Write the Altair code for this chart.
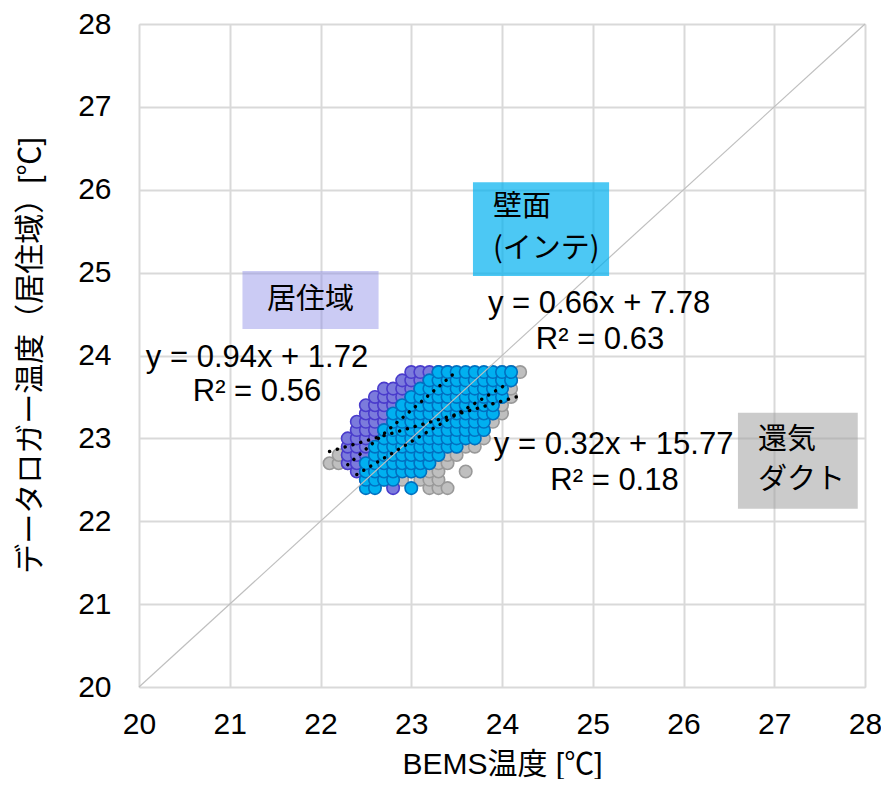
import altair as alt
import pandas as pd

# ---------------- data ----------------
# 還気ダクト (gray): x column -> y values
gray_x = [22.1, 22.2, 22.3, 22.4, 22.5, 22.6, 22.7, 22.8, 22.9, 23.0, 23.1,
          23.2, 23.3, 23.4, 23.5, 23.6, 23.7, 23.8, 23.9, 24.0, 24.1, 24.2]
gray_y = [[22.7], [22.7, 22.8], [22.7, 22.8], [22.7, 22.8, 23.1],
          [22.6, 22.7, 22.9, 23.1], [22.7, 22.8, 23.0], [22.5, 22.7, 22.9, 23.2],
          [22.6, 22.8, 23.0, 23.2], [22.5, 22.7, 22.9, 23.1], [22.6, 22.8, 23.0, 23.2],
          [22.5, 22.6, 22.7, 22.9], [22.4, 22.5, 22.6, 22.7, 22.8],
          [22.4, 22.5, 22.6, 22.7, 22.8, 23.0], [22.4, 22.7, 22.8, 22.9, 23.0],
          [22.8, 22.9, 23.0], [22.6, 22.9, 23.0, 23.1], [22.9, 23.0, 23.1, 23.2],
          [23.0, 23.1, 23.2, 23.3], [23.2, 23.3, 23.4, 23.5, 23.6],
          [23.3, 23.4, 23.5, 23.6, 23.7, 23.8], [23.5, 23.6, 23.7, 23.8], [23.8]]

# 居住域 (purple)
purple_x = [22.3, 22.4, 22.5, 22.6, 22.7, 22.8, 22.9, 23.0, 23.1, 23.2, 23.3, 23.4, 23.5]
purple_y = [[22.7, 22.8, 22.9, 23.0],
            [22.6, 22.7, 22.8, 22.9, 23.0, 23.1, 23.2],
            [22.5, 22.6, 22.7, 22.8, 22.9, 23.0, 23.1, 23.2, 23.3, 23.4],
            [22.5, 22.6, 22.7, 22.8, 22.9, 23.0, 23.1, 23.2, 23.3, 23.4, 23.5],
            [22.6, 22.7, 22.8, 22.9, 23.0, 23.1, 23.2, 23.3, 23.4, 23.5, 23.6],
            [22.4, 22.7, 22.8, 22.9, 23.0, 23.1, 23.2, 23.3, 23.4, 23.5, 23.6],
            [22.7, 22.8, 22.9, 23.0, 23.1, 23.2, 23.3, 23.4, 23.5, 23.6, 23.7],
            [22.8, 23.0, 23.1, 23.2, 23.3, 23.4, 23.5, 23.6, 23.7, 23.8],
            [23.0, 23.2, 23.3, 23.4, 23.5, 23.6, 23.7, 23.8],
            [23.2, 23.3, 23.4, 23.5, 23.6, 23.7, 23.8],
            [23.4, 23.5, 23.6, 23.7, 23.8], [23.5, 23.6, 23.7, 23.8], [23.7]]

# 壁面(インテ) (cyan)
cyan_x = [22.5, 22.6, 22.7, 22.8, 22.9, 23.0, 23.1, 23.2, 23.3, 23.4, 23.5,
          23.6, 23.7, 23.8, 23.9, 24.0, 24.1]
cyan_y = [[22.4, 22.5, 22.6, 22.7], [22.4, 22.5, 22.6, 22.7, 22.8, 22.9],
          [22.5, 22.6, 22.7, 22.8, 22.9, 23.0, 23.1],
          [22.5, 22.6, 22.7, 22.8, 22.9, 23.0, 23.1, 23.2, 23.3],
          [22.6, 22.7, 22.8, 22.9, 23.0, 23.1, 23.2, 23.3, 23.4],
          [22.4, 22.6, 22.7, 22.8, 22.9, 23.0, 23.1, 23.2, 23.3, 23.4, 23.5],
          [22.6, 22.7, 22.8, 22.9, 23.0, 23.1, 23.2, 23.3, 23.4, 23.5, 23.6],
          [22.7, 22.8, 22.9, 23.0, 23.1, 23.2, 23.3, 23.4, 23.5, 23.6, 23.7],
          [22.8, 22.9, 23.0, 23.1, 23.2, 23.3, 23.4, 23.5, 23.6, 23.7, 23.8],
          [22.9, 23.0, 23.1, 23.2, 23.3, 23.4, 23.5, 23.6, 23.7, 23.8],
          [22.9, 23.0, 23.1, 23.2, 23.3, 23.4, 23.5, 23.6, 23.7, 23.8],
          [23.0, 23.1, 23.2, 23.3, 23.4, 23.5, 23.6, 23.7, 23.8],
          [23.0, 23.1, 23.2, 23.3, 23.4, 23.5, 23.6, 23.7, 23.8],
          [23.1, 23.2, 23.3, 23.4, 23.5, 23.6, 23.7, 23.8],
          [23.3, 23.4, 23.5, 23.6, 23.7, 23.8],
          [23.5, 23.6, 23.7, 23.8], [23.7, 23.8]]

# trend lines (from the displayed equations)
trend_names = ["gray", "purple", "cyan"]
trend_slope = [0.32, 0.94, 0.66]
trend_icept = [15.77, 1.72, 7.78]
trend_x0 = [22.1, 22.3, 22.4]
trend_x1 = [24.2, 23.5, 24.05]

axis_ticks = [20, 21, 22, 23, 24, 25, 26, 27, 28]

# equation labels
eq_text = ["y = 0.94x + 1.72", "R² = 0.56", "y = 0.66x + 7.78", "R² = 0.63",
           "y = 0.32x + 15.77", "R² = 0.18"]
eq_x = [21.30, 21.30, 25.07, 25.08, 25.23, 25.24]
eq_y = [23.97, 23.56, 24.62, 24.19, 22.92, 22.48]

# label boxes
box_x = [21.14, 23.68, 26.60]
box_x2 = [22.64, 25.18, 27.92]
box_y = [24.32, 24.96, 22.15]
box_y2 = [25.02, 26.09, 23.31]
box_fill = ["#8c8ce6", "#00b0f0", "#a0a0a0"]
box_op = [0.45, 0.7, 0.55]

# box texts
lab_text = ["居住域", "壁面", "(インテ)", "還気", "ダクト"]
lab_x = [21.89, 23.90, 23.90, 26.82, 26.82]
lab_y = [24.67, 25.79, 25.29, 22.98, 22.50]
lab_align = ["center", "left", "left", "left", "left"]

# ---------------- build tables ----------------
def expand(xs, ys, name):
    rows = []
    for x, col in zip(xs, ys):
        for y in col:
            rows.append({"x": x, "y": y, "s": name})
    return rows

pts = pd.DataFrame(expand(gray_x, gray_y, "gray")
                   + expand(purple_x, purple_y, "purple")
                   + expand(cyan_x, cyan_y, "cyan"))

trend_rows = []
for n, a, b, x0, x1 in zip(trend_names, trend_slope, trend_icept, trend_x0, trend_x1):
    trend_rows.append({"s": n, "x": x0, "y": a * x0 + b})
    trend_rows.append({"s": n, "x": x1, "y": a * x1 + b})
trend = pd.DataFrame(trend_rows)

diag = pd.DataFrame({"x": [20, 28], "y": [20, 28]})
eqs = pd.DataFrame({"t": eq_text, "x": eq_x, "y": eq_y})
boxes = pd.DataFrame({"x": box_x, "x2": box_x2, "y": box_y, "y2": box_y2,
                      "f": box_fill, "o": box_op})
labs = pd.DataFrame({"t": lab_text, "x": lab_x, "y": lab_y, "a": lab_align})

LAT = "Liberation Sans, Arial, Noto Sans CJK JP"
JP = "Noto Sans CJK JP"

xs = alt.Scale(domain=[20, 28], nice=False, zero=False)
ys = alt.Scale(domain=[20, 28], nice=False, zero=False)

xax = alt.Axis(values=axis_ticks, format="d", title="BEMS温度 [℃]", grid=True,
               gridColor="#d9d9d9", gridWidth=2, domain=False, ticks=False,
               labelFont=LAT, labelFontSize=30, labelColor="black", labelPadding=22,
               titleFont=LAT, titleFontSize=30, titleFontWeight="normal",
               titleColor="black", titleY=77, titleBaseline="middle", labelFlush=False)
yax = alt.Axis(values=axis_ticks, format="d", title="データロガー温度（居住域）[℃]",
               grid=True, gridColor="#d9d9d9", gridWidth=2, domain=False, ticks=False,
               labelFont=LAT, labelFontSize=30, labelColor="black", labelPadding=28,
               titleFont=LAT, titleFontSize=30, titleFontWeight="normal",
               titleColor="black", titleX=-109, titleY=331, titleBaseline="middle",
               titleAngle=270, labelFlush=False)

def scatter(name, fill, stroke):
    return alt.Chart(pts).transform_filter(alt.datum.s == name).mark_point(
        shape="circle", filled=True, size=155, fill=fill, stroke=stroke,
        strokeWidth=1.6, opacity=1
    ).encode(x=alt.X("x:Q", scale=xs, axis=xax), y=alt.Y("y:Q", scale=ys, axis=yax))

g = scatter("gray", "#bfbfbf", "#999999")
p = scatter("purple", "#7b7bdc", "#4a3ccc")
c = scatter("cyan", "#00b0f0", "#0070c0")

diag_line = alt.Chart(diag).mark_line(color="#bfbfbf", strokeWidth=1.2).encode(
    x=alt.X("x:Q", scale=xs), y=alt.Y("y:Q", scale=ys))

trend_lines = alt.Chart(trend).mark_line(
    color="black", strokeWidth=3.4, strokeDash=[0.1, 8], strokeCap="round"
).encode(x=alt.X("x:Q", scale=xs), y=alt.Y("y:Q", scale=ys), detail="s:N")

box_layer = alt.Chart(boxes).mark_rect().encode(
    x=alt.X("x:Q", scale=xs), x2="x2", y=alt.Y("y:Q", scale=ys), y2="y2",
    fill=alt.Fill("f:N", scale=None), opacity=alt.Opacity("o:Q", scale=None))

eq_layer = alt.Chart(eqs).mark_text(
    font=LAT, fontSize=31, color="black", align="center", baseline="middle"
).encode(x=alt.X("x:Q", scale=xs), y=alt.Y("y:Q", scale=ys), text="t:N")

lab_center = alt.Chart(labs).transform_filter(alt.datum.a == "center").mark_text(
    font=JP, fontSize=29, color="black", align="center", baseline="middle"
).encode(x=alt.X("x:Q", scale=xs), y=alt.Y("y:Q", scale=ys), text="t:N")
lab_left = alt.Chart(labs).transform_filter(alt.datum.a == "left").mark_text(
    font=JP, fontSize=29, color="black", align="left", baseline="middle"
).encode(x=alt.X("x:Q", scale=xs), y=alt.Y("y:Q", scale=ys), text="t:N")

chart = alt.layer(g, p, c, diag_line, trend_lines, box_layer, eq_layer,
                  lab_center, lab_left).properties(
    width=726, height=663,
    autosize=alt.AutoSizeParams(type="none"),
    padding={"left": 131, "top": 16, "right": 16, "bottom": 92},
).configure_view(stroke="black", strokeWidth=2.2).configure(background="white")

chart.save("out.html", embed_options={"renderer": "svg", "actions": False})
